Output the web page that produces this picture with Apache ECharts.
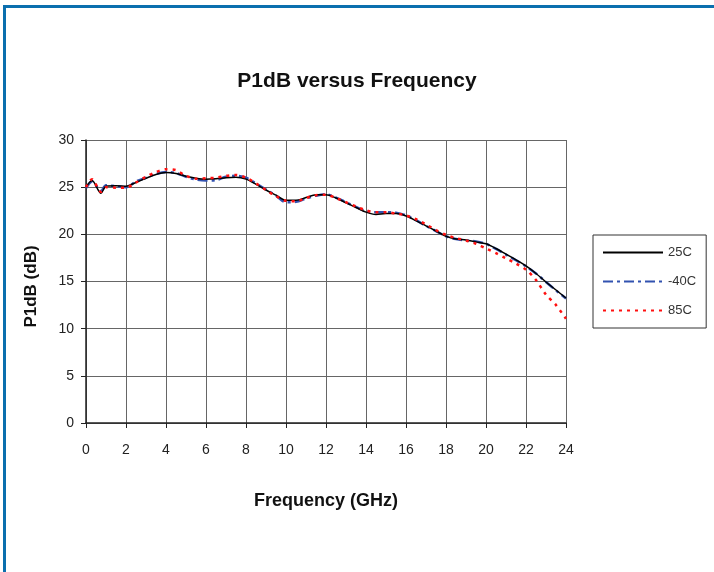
<!DOCTYPE html>
<html>
<head>
<meta charset="utf-8">
<script src="https://cdn.jsdelivr.net/npm/echarts@6/dist/echarts.min.js"></script>
<style>
  html, body { margin: 0; padding: 0; background: #fff; }
  #chart { width: 714px; height: 572px; }
</style>
</head>
<body>
<div id="chart"></div>
<script>
// frequency points (GHz)
const freq = [0, 0.3, 0.75, 1, 1.5, 2, 2.5, 3, 3.5, 4, 4.5, 5, 5.5, 6, 6.5, 7, 7.5, 8, 8.5, 9,
  9.5, 10, 10.5, 11, 11.5, 12, 12.5, 13, 13.5, 14, 14.5, 15, 15.5, 16, 16.5, 17, 17.5, 18,
  18.5, 19, 19.5, 20, 20.5, 21, 21.5, 22, 22.5, 23, 23.5, 24]

// P1dB (dB) per temperature
const p25 = [25.0, 25.7, 24.35, 25.1, 25.15, 25.1, 25.5, 25.95, 26.35, 26.55, 26.45, 26.15, 25.95, 25.85,
  25.9, 26.0, 26.05, 25.85, 25.3, 24.7, 24.15, 23.6, 23.6, 23.9, 24.2, 24.2, 23.85, 23.35, 22.85,
  22.35, 22.1, 22.2, 22.2, 21.95, 21.45, 20.9, 20.35, 19.8, 19.5, 19.4, 19.2, 19.0, 18.5, 17.9,
  17.3, 16.65, 15.85, 14.95, 14.1, 13.25]
const pm40 = [24.9, 25.6, 24.6, 25.2, 25.1, 25.0, 25.6, 26.0, 26.4, 26.6, 26.5, 26.1, 25.8, 25.7,
  25.75, 26.1, 26.2, 26.0, 25.4, 24.75, 24.1, 23.4, 23.45, 23.8, 24.1, 24.25, 23.9, 23.4, 22.9,
  22.45, 22.35, 22.35, 22.3, 22.0, 21.5, 20.9, 20.35, 19.8, 19.5, 19.35, 19.25, 19.0, 18.45, 17.85,
  17.25, 16.6, 15.85, 14.95, 14.05, 13.2]
const p85 = [25.0, 25.85, 24.5, 25.0, 24.95, 24.95, 25.5, 26.1, 26.6, 26.9, 26.8, 26.2, 25.9, 25.95,
  26.0, 26.2, 26.3, 26.0, 25.4, 24.7, 24.05, 23.55, 23.5, 23.85, 24.15, 24.2, 23.85, 23.4, 22.95,
  22.55, 22.35, 22.35, 22.2, 22.0, 21.6, 21.05, 20.45, 19.95, 19.6, 19.35, 19.0, 18.5, 18.0, 17.45,
  16.9, 16.25, 15.15, 13.6, 12.5, 11.05]

const seriesNames = ['25C', '-40C', '85C']

const pairs = (ys) => freq.map((f, i) => [f, ys[i]])

const chart = echarts.init(document.getElementById('chart'))
const font = 'Liberation Sans, Arial, sans-serif'

chart.setOption({
  backgroundColor: '#fff',
  animation: false,
  textStyle: { fontFamily: font },
  title: {
    text: 'P1dB versus Frequency',
    left: 'center',
    top: 66,
    textStyle: { fontSize: 21, fontWeight: 'bold', color: '#111', fontFamily: font }
  },
  graphic: [
    { type: 'rect', shape: { x: 3, y: 5, width: 711, height: 3 }, style: { fill: '#0b6fae' } },
    { type: 'rect', shape: { x: 3, y: 5, width: 3, height: 567 }, style: { fill: '#0b6fae' } }
  ],
  legend: {
    orient: 'vertical',
    left: 593,
    top: 235,
    padding: [11, 10, 11, 9],
    itemWidth: 60,
    itemHeight: 14,
    itemGap: 16,
    borderColor: '#333',
    borderWidth: 1,
    itemStyle: { opacity: 0 },
    textStyle: { fontSize: 13, color: '#333', fontFamily: font },
    data: seriesNames
  },
  grid: { left: 86, right: 148, top: 140, bottom: 149 },
  xAxis: {
    type: 'value',
    min: 0,
    max: 24,
    interval: 2,
    name: 'Frequency (GHz)',
    nameLocation: 'middle',
    nameGap: 69,
    nameTextStyle: { fontSize: 18, fontWeight: 'bold', color: '#111' },
    axisLine: { onZero: false, lineStyle: { color: '#222', width: 1.5 } },
    axisTick: { show: true, length: 5, lineStyle: { color: '#222' } },
    axisLabel: { fontSize: 14, color: '#222', margin: 20 },
    splitLine: { show: true, lineStyle: { color: '#666', width: 1 } }
  },
  yAxis: {
    type: 'value',
    min: 0,
    max: 30,
    interval: 5,
    name: 'P1dB (dB)',
    nameLocation: 'middle',
    nameGap: 46,
    nameRotate: 90,
    nameTextStyle: { fontSize: 17, fontWeight: 'bold', color: '#111', padding: [0, 10, 0, 0] },
    axisLine: { show: true, lineStyle: { color: '#222', width: 1.5 } },
    axisTick: { show: true, length: 5, lineStyle: { color: '#222' } },
    axisLabel: { fontSize: 14, color: '#222', margin: 12 },
    splitLine: { show: true, lineStyle: { color: '#666', width: 1 } }
  },
  series: [
    {
      name: '25C',
      type: 'line',
      smooth: 0.3,
      symbol: 'none',
      z: 3,
      lineStyle: { color: '#000', width: 1.5, type: 'solid' },
      itemStyle: { color: '#000' },
      data: pairs(p25)
    },
    {
      name: '-40C',
      type: 'line',
      smooth: 0.3,
      symbol: 'none',
      z: 2,
      lineStyle: { color: '#3252b0', width: 2.5, type: [10, 4, 3, 4] },
      itemStyle: { color: '#3252b0' },
      data: pairs(pm40)
    },
    {
      name: '85C',
      type: 'line',
      smooth: 0.3,
      symbol: 'none',
      z: 4,
      lineStyle: { color: '#ff1010', width: 2.5, type: [3, 5] },
      itemStyle: { color: '#ff1010' },
      data: pairs(p85)
    }
  ]
})
</script>
</body>
</html>
